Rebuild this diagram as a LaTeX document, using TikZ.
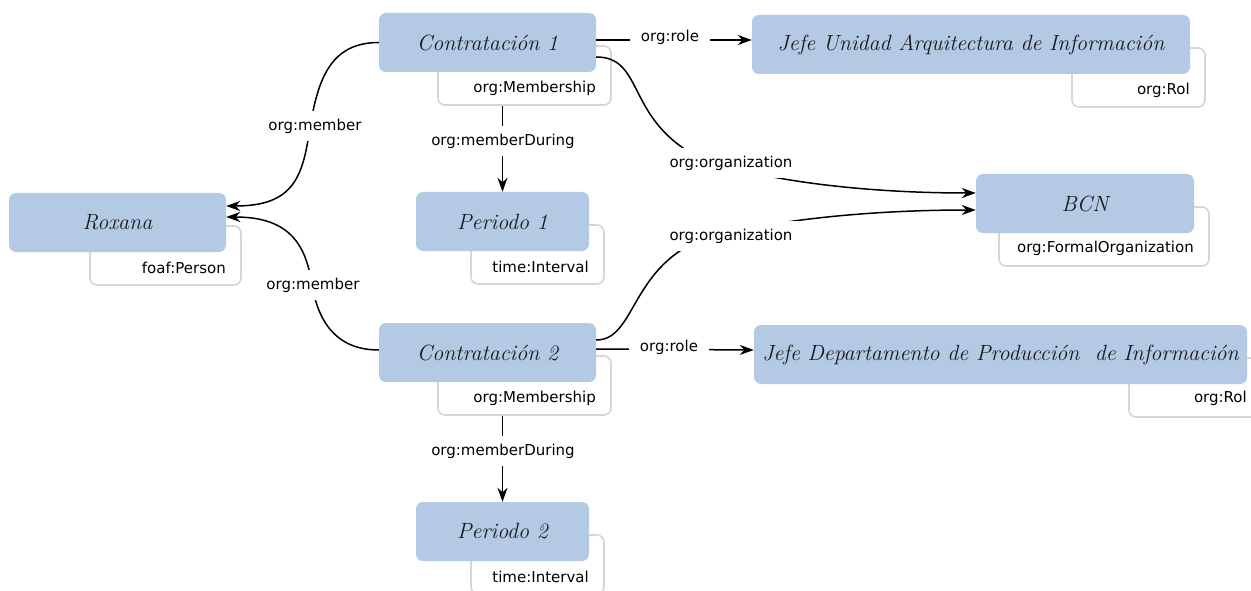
\documentclass[tikz,border=0pt]{standalone}
\usepackage{fontspec}
\setmainfont{Latin Modern Roman}
\newfontfamily\lblfamily{DejaVu Sans}
\usetikzlibrary{arrows.meta}
\definecolor{boxblue}{HTML}{B3C9E4}
\definecolor{typegray}{HTML}{D6D6D2}
\tikzset{
  entity/.style={fill=boxblue, rounded corners=7pt, minimum height=59pt, inner sep=0pt,
                 text=black!90, font=\fontsize{22}{26}\selectfont\itshape},
  typebox/.style={draw=typegray, line width=1.6pt, fill=white, rounded corners=7pt,
                  minimum height=59pt, inner sep=0pt},
  typelbl/.style={font=\lblfamily\fontsize{15}{18}\selectfont, anchor=east, inner sep=0pt},
  edgelbl/.style={font=\lblfamily\fontsize{15}{18}\selectfont, fill=white,
                  inner xsep=11pt, inner ysep=8pt},
  link/.style={line width=1.5pt, -{Stealth[length=14pt,width=10pt,inset=4.5pt]}},
}
\begin{document}
\begin{tikzpicture}[x=1pt, y=-1pt]
\useasboundingbox (0,0) rectangle (1251,591);

% class boxes (behind the resources)
\node[typebox, minimum width=173pt] (c1t)    at (524.5,75.5)  {};
\node[typebox, minimum width=151pt] (roxt)   at (165.5,255.5) {};
\node[typebox, minimum width=133pt] (p1t)    at (537.5,254.5) {};
\node[typebox, minimum width=133pt] (jefeUt) at (1138.5,77.5) {};
\node[typebox, minimum width=210pt] (bcnt)   at (1104,236.5)  {};
\node[typebox, minimum width=173pt] (c2t)    at (524.5,385.5) {};
\node[typebox, minimum width=133pt] (jefeDt) at (1195.5,387.5){};
\node[typebox, minimum width=133pt] (p2t)    at (537.5,564.5) {};

% resources
\node[entity, minimum width=217pt] (c1)    at (487.5,42.5)  {Contratación 1};
\node[entity, minimum width=217pt] (rox)   at (117.5,222.5) {Roxana};
\node[entity, minimum width=173pt] (p1)    at (502.5,221.5) {Periodo 1};
\node[entity, minimum width=438pt] (jefeU) at (971,44.5)    {Jefe Unidad Arquitectura de Información};
\node[entity, minimum width=218pt] (bcn)   at (1085,203.5)  {BCN};
\node[entity, minimum width=217pt] (c2)    at (487.5,352.5) {Contratación 2};
\node[entity, minimum width=493pt] (jefeD) at (1000.5,354.5){Jefe Departamento de Producción\ \ de Información};
\node[entity, minimum width=173pt] (p2)    at (502.5,531.5) {Periodo 2};

% class names
\node[typelbl] (c1n)    at (596,88)   {org:Membership};
\node[typelbl] (roxn)   at (226,268)  {foaf:Person};
\node[typelbl] (p1n)    at (589,267)  {time:Interval};
\node[typelbl] (jefeUn) at (1190,90)  {org:Rol};
\node[typelbl] (bcnn)   at (1194,248) {org:FormalOrganization};
\node[typelbl] (c2n)    at (596,398)  {org:Membership};
\node[typelbl] (jefeDn) at (1247,398) {org:Rol};
\node[typelbl] (p2n)    at (589,577)  {time:Interval};

% properties
\draw[link] (c1.west) .. controls (330,42.5) and (318,80) .. (310,127)
            .. controls (303,178) and (293,206) .. ([yshift=16.5pt]rox.east);
\node[edgelbl] (m1) at (315,126) {org:member};

\draw[link] ([yshift=2.5pt]c2.west) .. controls (335,350) and (318,320) .. (312,285)
            .. controls (306,245) and (290,217) .. ([yshift=5.5pt]rox.east);
\node[edgelbl] (m2) at (313,285) {org:member};

\draw[link] ([yshift=2.5pt]c1.east) -- ([yshift=4.5pt]jefeU.west);
\node[edgelbl] (r1) at (670,37) {org:role};

\draw[link] ([yshift=3.5pt]c2.east) -- ([yshift=4.5pt]jefeD.west);
\node[edgelbl] (r2) at (669,347) {org:role};

\draw[link] ([yshift=-14.5pt]c1.east) .. controls (645,57) and (625,120) .. (700,158)
            .. controls (760,180) and (860,193) .. ([yshift=10.5pt]bcn.west);
\node[edgelbl] (o1) at (731,163) {org:organization};

\draw[link] ([yshift=12.5pt]c2.east) .. controls (635,340) and (630,270) .. (700,240)
            .. controls (760,222) and (860,210) .. ([yshift=-6.5pt]bcn.west);
\node[edgelbl] (o2) at (731,236) {org:organization};

\draw[link] (c1t.south -| p1.north) -- (p1.north);
\node[edgelbl] (d1) at (503,141) {org:memberDuring};

\draw[link] (c2t.south -| p2.north) -- (p2.north);
\node[edgelbl] (d2) at (503,451) {org:memberDuring};
\end{tikzpicture}
\end{document}
